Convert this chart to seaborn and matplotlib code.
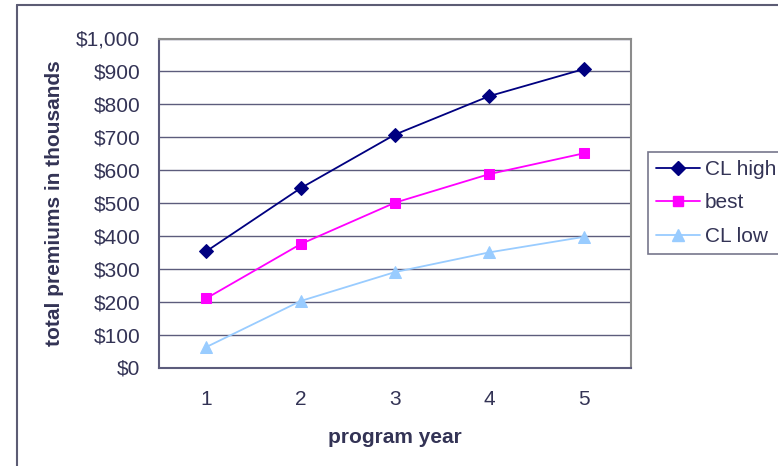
import matplotlib
matplotlib.use("Agg")
import matplotlib.pyplot as plt
import matplotlib.ticker as mticker
from matplotlib.lines import Line2D
import pandas as pd
import seaborn as sns

# program years and premium projections (in thousands of dollars)
years = [1, 2, 3, 4, 5]
cl_high = [353, 545, 708, 825, 907]
best = [210, 375, 501, 588, 651]
cl_low = [62, 202, 290, 350, 397]
series_names = ["CL high", "best", "CL low"]
y_ticks = [0, 100, 200, 300, 400, 500, 600, 700, 800, 900, 1000]

df = pd.DataFrame({
    "year": years * 3,
    "premium": cl_high + best + cl_low,
    "series": [s for s in series_names for _ in years],
})

sns.set_style("white")
plt.rcParams["font.family"] = ["Liberation Sans", "DejaVu Sans"]

text_col = "#333355"
grid_col = "#5c5c7c"
fs = 15
colors = {"CL high": "#000080", "best": "#FF00FF", "CL low": "#99CCFF"}
markers = {"CL high": "D", "best": "s", "CL low": "^"}
msizes = {"CL high": 7.5, "best": 7.5, "CL low": 8.5}

fig = plt.figure(figsize=(7.78, 4.66), dpi=100)
ax = fig.add_axes([159 / 778, 1 - 367.5 / 466, 472 / 778, 329 / 466])

for name in series_names:
    sub = df[df["series"] == name]
    sns.lineplot(data=sub, x="year", y="premium", ax=ax, color=colors[name],
                 marker=markers[name], markersize=msizes[name],
                 markeredgecolor=colors[name], linewidth=1.3, legend=False,
                 zorder=3)

ax.set_xlim(0.5, 5.5)
ax.set_ylim(0, 1000)
ax.set_yticks(y_ticks)
ax.yaxis.set_major_formatter(mticker.FuncFormatter(lambda v, p: f"${int(v):,}"))
ax.set_xticks(years)
ax.set_xticks([0.5, 1.5, 2.5, 3.5, 4.5, 5.5], minor=True)
ax.tick_params(axis="x", which="major", length=0, pad=16, labelsize=fs,
               colors=text_col)
ax.tick_params(axis="x", which="minor", length=4.5, direction="out",
               color=grid_col, width=1)
ax.tick_params(axis="y", which="major", length=4.5, direction="out",
               color=grid_col, width=1, labelsize=fs, labelcolor=text_col,
               pad=9)
ax.yaxis.grid(True, color=grid_col, linewidth=1)
ax.set_axisbelow(True)

for side in ["left", "bottom"]:
    ax.spines[side].set_color(grid_col)
    ax.spines[side].set_linewidth(1.5)
for side in ["top", "right"]:
    ax.spines[side].set_visible(True)
    ax.spines[side].set_color("#8c8c8c")
    ax.spines[side].set_linewidth(1.5)

ax.set_xlabel("program year", fontsize=fs, fontweight="bold",
              color=text_col, labelpad=14)
ax.set_ylabel("total premiums in thousands", fontsize=fs, fontweight="bold",
              color=text_col, labelpad=9)

handles = [Line2D([0], [0], color=colors[n], marker=markers[n],
                  markersize=msizes[n] - 0.5, markeredgecolor=colors[n],
                  linewidth=1.3) for n in series_names]
leg = fig.legend(handles, series_names, loc="upper left",
                 bbox_to_anchor=(648 / 778, 1 - 152 / 466), borderaxespad=0,
                 frameon=True, fancybox=False, fontsize=fs, handlelength=2.1,
                 handletextpad=0.25, labelspacing=0.7, borderpad=0.38,
                 labelcolor=text_col)
leg.get_frame().set_edgecolor("#555570")
leg.get_frame().set_linewidth(1.2)

# chart area border
fig.add_artist(Line2D([17 / 778, 17 / 778], [0, 1 - 5 / 466],
                      transform=fig.transFigure, color="#5c5c74", linewidth=1.5))
fig.add_artist(Line2D([17 / 778, 1], [1 - 5 / 466, 1 - 5 / 466],
                      transform=fig.transFigure, color="#5c5c74", linewidth=1.5))

fig.savefig("out.png", dpi=100)
